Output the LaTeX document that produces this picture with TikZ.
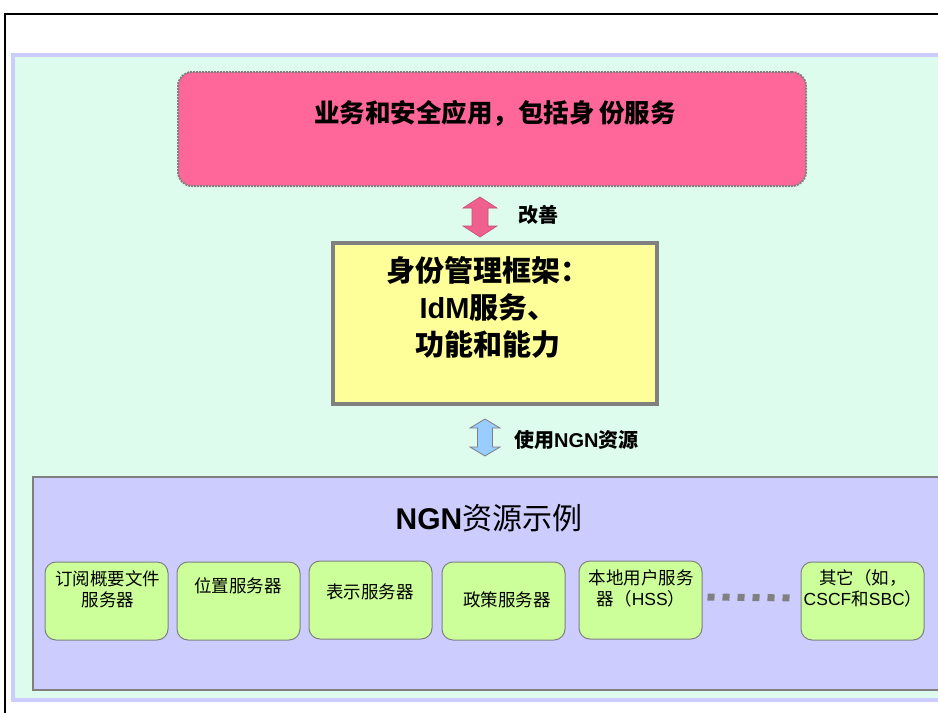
\documentclass[tikz,border=0pt]{standalone}
\usepackage{fontspec}
\setmainfont{Liberation Sans}
\newfontfamily\cjk{Noto Sans CJK SC}
\definecolor{mint}{HTML}{DEFCEE}
\definecolor{lav}{HTML}{CCCCFF}
\definecolor{pinkbox}{HTML}{FF6699}
\definecolor{yel}{HTML}{FFFF99}
\definecolor{grn}{HTML}{CCFF99}
\definecolor{bord}{HTML}{808080}
\definecolor{parrow}{HTML}{F0608E}
\definecolor{barrow}{HTML}{99CCFF}
\tikzset{
  gbox/.style={draw=bord, line width=1pt, fill=grn, rounded corners=11pt,
    minimum width=123pt, minimum height=78pt, inner sep=0pt},
  gtext/.style={font=\fontsize{17.5}{21}\selectfont\cjk, align=center, inner sep=0pt},
  albl/.style={font=\fontsize{20}{24}\selectfont\bfseries, anchor=west, inner sep=0pt}
}
\begin{document}
\begin{tikzpicture}[x=1pt,y=-1pt]
\useasboundingbox (0,0) rectangle (938,713);
% outer frame
\draw[line width=2pt] (5,713) -- (5,14) -- (938,14);
% background panel
\draw[draw=lav, line width=4pt, fill=mint] (13,55) rectangle (944,700);
% top pink box
\node[draw=bord, dashed, dash pattern=on 2pt off 1pt, line width=2pt, fill=pinkbox,
  rounded corners=14pt, minimum width=628pt, minimum height=114pt, inner sep=0pt]
  (app) at (492,129) {};
\node[font=\fontsize{25.5}{28}\selectfont\cjk\bfseries, inner sep=0pt] (appt) at (495,113)
  {业务和安全应用，包括身\,份服务};
% yellow box
\node[draw=bord, line width=4pt, fill=yel, minimum width=324pt, minimum height=161pt,
  inner sep=0pt] (idm) at (495,323.5) {};
\node[font=\fontsize{29}{37}\selectfont\cjk\bfseries, align=center, inner sep=0pt] (idmt) at (488,307)
  {身份管理框架：\\{\fontspec{Liberation Sans}IdM}服务、\\ 功能和能力};
% pink double arrow
\coordinate (pa) at (480,217);
\draw[draw=parrow!80!black, line width=0.6pt, fill=parrow]
  ([yshift=20pt]pa) -- ++(17,11) -- ++(-9,0) -- ++(0,18) -- ++(9,0) -- ++(-17,11)
  -- ++(-17,-11) -- ++(9,0) -- ++(0,-18) -- ++(-9,0) -- cycle;
\node[albl] (gs) at (518,215) {\cjk 改善};
% blue double arrow
\coordinate (ba) at (485,437.5);
\draw[draw=bord, line width=0.8pt, fill=barrow]
  ([yshift=18.5pt]ba) -- ++(15,9) -- ++(-7.5,0) -- ++(0,19) -- ++(7.5,0) -- ++(-15,9)
  -- ++(-15,-9) -- ++(7.5,0) -- ++(0,-19) -- ++(-7.5,0) -- cycle;
\node[albl] (ngnl) at (514,440) {{\cjk 使用}NGN{\cjk 资源}};
% purple box
\draw[draw=bord, line width=2pt, fill=lav] (33,477) rectangle (946,690);
\node[font=\fontsize{30}{34}\selectfont, inner sep=0pt] (ngnt) at (489,518)
  {{\bfseries NGN}{\cjk 资源示例}};
% green boxes
\node[gbox] (b1) at (106.5,601) {};
\node[gbox] (b2) at (238.5,601) {};
\node[gbox] (b3) at (370.5,600) {};
\node[gbox] (b4) at (503.5,601) {};
\node[gbox] (b5) at (640.5,600) {};
\node[gbox] (b6) at (862.5,601) {};
\node[gtext] (t1) at (108,589) {订阅概要文件\\服务器};
\node[gtext] (t2) at (238,586) {位置服务器};
\node[gtext] (t3) at (370,592) {表示服务器};
\node[gtext] (t4) at (507,600) {政策服务器};
\node[gtext] (t5) at (641,588) {本地用户服务\\器（{\fontspec{Liberation Sans}HSS}）};
\node[gtext] (t6) at (863,588) {其它（如，\\{\fontspec{Liberation Sans}CSCF}和{\fontspec{Liberation Sans}SBC}）};
% dotted connector
\draw[draw=bord, line width=7pt, dash pattern=on 7pt off 8pt]
  ([xshift=5pt,yshift=3pt]b5.east) -- ([xshift=-5pt,yshift=3pt]b6.west);
\end{tikzpicture}
\end{document}
